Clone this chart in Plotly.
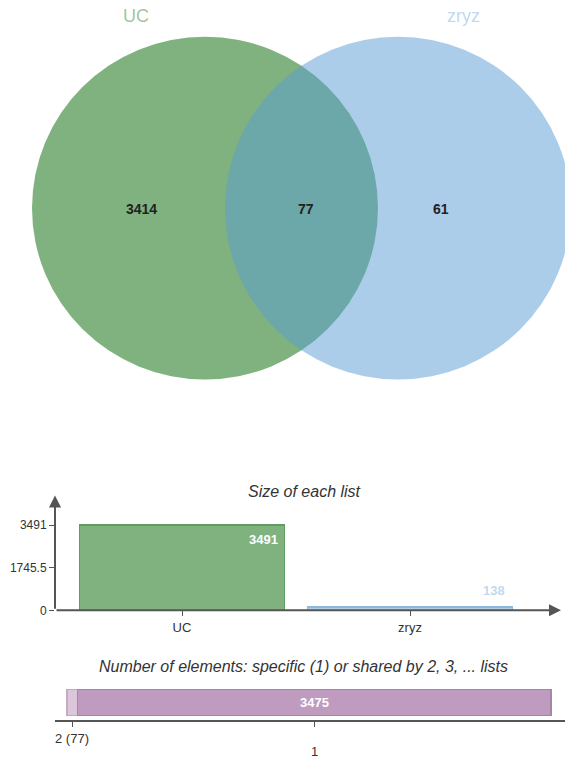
import plotly.graph_objects as go

# ---------------- data ----------------
list_names = ["UC", "zryz"]
only_counts = [3414, 61]          # elements specific to each list
shared_count = 77                 # elements shared by both lists
list_sizes = [only_counts[0] + shared_count, only_counts[1] + shared_count]   # 3491, 138
degree_labels = [2, 1]            # shared by 2 lists, specific (1)
degree_counts = [shared_count, sum(only_counts)]                              # 77, 3475
size_ticks = [0, max(list_sizes) / 2, max(list_sizes)]

# ---------------- style ----------------
W, H = 565, 764                   # reference picture size (layout is given in fractions of it)
FONT = "Liberation Sans, Arial, sans-serif"
base_rgb = ["0,102,0", "90,155,212"]
bar_fill = ["#7fb27f", "#adcde9"]
bar_line = ["#5f9c5f", "#8db8de"]
deg_fill = ["#dcc6dc", "#bf9bbf"]
deg_line = ["#c3abc3", "#a586a5"]
AX = "#555555"


def px(x):
    return x / W


def py(y):
    return 1 - y / H


fig = go.Figure()

# ---------------- Venn (pixel-like coordinate axis) ----------------
circles = [(205, 210, 173), (398, 210, 173)]
shapes = []
for (cx, cy, r), rgb in zip(circles, base_rgb):
    shapes.append(dict(type="circle", xref="x", yref="y",
                       x0=cx - r, x1=cx + r, y0=cy - r, y1=cy + r,
                       fillcolor=f"rgba({rgb},0.5)", line=dict(width=0),
                       layer="below"))

annotations = []


def ann(**kw):
    kw.setdefault("xanchor", "center")
    kw.setdefault("yanchor", "middle")
    kw.setdefault("showarrow", False)
    annotations.append(kw)


name_pos = [(136, 16), (463, 16)]
for name, (x, y), rgb in zip(list_names, name_pos, base_rgb):
    ann(x=x, y=y, xref="x", yref="y", text=name,
        font=dict(family=FONT, size=18, color=f"rgba({rgb},0.4)"))
region_vals = [only_counts[0], shared_count, only_counts[1]]
region_pos = [(141, 211), (306, 211), (441, 211)]
for v, (x, y) in zip(region_vals, region_pos):
    ann(x=x, y=y, xref="x", yref="y", text=f"<b>{v}</b>",
        font=dict(family=FONT, size=14, color="#222222"))

fig.add_trace(go.Scatter(x=[0], y=[0], xaxis="x", yaxis="y", mode="markers",
                         marker=dict(opacity=0), showlegend=False, hoverinfo="skip"))

# ---------------- Size of each list ----------------
ux = 228.0                      # px per category
uy = 86.0 / max(list_sizes)     # px per unit on size axis
x2_range = [-(182 - 55) / ux, (561 - 182) / ux]
y2_range = [0, (616 - 500) / uy]

for i, (name, val) in enumerate(zip(list_names, list_sizes)):
    fig.add_trace(go.Bar(x=[name], y=[val], xaxis="x2", yaxis="y2", width=0.9,
                         marker=dict(color=bar_fill[i], line=dict(color=bar_line[i], width=1.5)),
                         showlegend=False, hoverinfo="skip"))
    inside = val / max(list_sizes) > 0.25
    ann(x=i + 0.45, y=val, xref="x2", yref="y2", text=f"<b>{val}</b>",
        xanchor="right", yanchor="top" if inside else "bottom",
        xshift=-5 if inside else -6, yshift=-5 if inside else 7,
        font=dict(family=FONT, size=13,
                  color="white" if inside else f"rgba({base_rgb[i]},0.4)"))

ann(x=px(304), y=py(496), xref="paper", yref="paper",
    text="<i>Size of each list</i>",
    font=dict(family=FONT, size=16, color="#333333"))
# axis arrows (drawn in axis coordinates)
ann(x=x2_range[0], y=y2_range[1], xref="x2", yref="y2", text="",
    showarrow=True, ax=x2_range[0], ay=0, axref="x2", ayref="y2",
    arrowhead=2, arrowsize=1.2, arrowwidth=2, arrowcolor=AX)
ann(x=x2_range[1], y=0, xref="x2", yref="y2", text="",
    showarrow=True, ax=x2_range[0], ay=0, axref="x2", ayref="y2",
    arrowhead=2, arrowsize=1.2, arrowwidth=2, arrowcolor=AX)

# ---------------- Number of elements by degree ----------------
total = sum(degree_counts)
cum = 0
centers = []
for j, (deg, cnt) in enumerate(zip(degree_labels, degree_counts)):
    fig.add_trace(go.Bar(x=[cnt], y=[0], orientation="h", xaxis="x3", yaxis="y3", width=0.8,
                         marker=dict(color=deg_fill[j], line=dict(color=deg_line[j], width=1.5)),
                         showlegend=False, hoverinfo="skip"))
    c = cum + cnt / 2
    centers.append(c)
    if cnt / total > 0.1:
        ann(x=c, y=0, xref="x3", yref="y3", text=f"<b>{cnt}</b>",
            font=dict(family=FONT, size=13, color="white"))
    cum += cnt

tick_text = [f"{d} ({c})" if c / total < 0.1 else f"{d}" for d, c in zip(degree_labels, degree_counts)]
tick_y = [745, 758]
for c, t, yy in zip(centers, tick_text, tick_y):
    ann(x=c, y=py(yy), xref="x3", yref="paper", text=t,
        font=dict(family=FONT, size=13, color="#333333"))
ann(x=px(303), y=py(673), xref="paper", yref="paper",
    text="<i>Number of elements: specific (1) or shared by 2, 3, ... lists</i>",
    font=dict(family=FONT, size=16, color="#333333"))

# ---------------- layout ----------------
ud = (551 - 67) / total         # px per unit on degree axis

fig.update_layout(
    autosize=True,
    margin=dict(l=0, r=0, t=0, b=0, pad=0),
    paper_bgcolor="white", plot_bgcolor="rgba(0,0,0,0)",
    barmode="stack", hovermode=False,
    shapes=shapes, annotations=annotations,
    xaxis=dict(domain=[0, 1], range=[0, W], visible=False, fixedrange=True),
    yaxis=dict(domain=[py(400), 1], range=[400, 0], visible=False, fixedrange=True),
    xaxis2=dict(domain=[px(55), px(561)], range=x2_range,
                anchor="y2", showline=False, showgrid=False, zeroline=False,
                ticks="outside", ticklen=5, tickcolor=AX, tickwidth=1,
                tickfont=dict(family=FONT, size=13, color="#333333")),
    yaxis2=dict(domain=[py(616), py(500)], range=y2_range, anchor="x2",
                showline=False, showgrid=False, zeroline=False,
                tickvals=size_ticks, ticktext=[f"{v:g}" for v in size_ticks],
                ticks="outside", ticklen=5, tickcolor=AX, tickwidth=1,
                tickfont=dict(family=FONT, size=12, color="#333333")),
    xaxis3=dict(domain=[px(55), 1], range=[-(67 - 55) / ud, (565 - 67) / ud], anchor="y3",
                showline=True, linecolor=AX, linewidth=2, showgrid=False, zeroline=False,
                tickvals=centers, showticklabels=False,
                ticks="outside", ticklen=5, tickcolor=AX, tickwidth=1),
    yaxis3=dict(domain=[py(727), py(694)], range=[-0.4 - 5 / 32.5, 0.4 + 2 / 32.5],
                anchor="x3", visible=False),
)

page_css = ("var s=document.createElement('style');"
            "s.textContent='html,body{margin:0;padding:0;overflow:hidden}';"
            "document.head.appendChild(s);")
fig.write_html("out.html", config={"displayModeBar": False, "staticPlot": True, "responsive": True},
               default_width="100vw", default_height="100vh", post_script=page_css)
